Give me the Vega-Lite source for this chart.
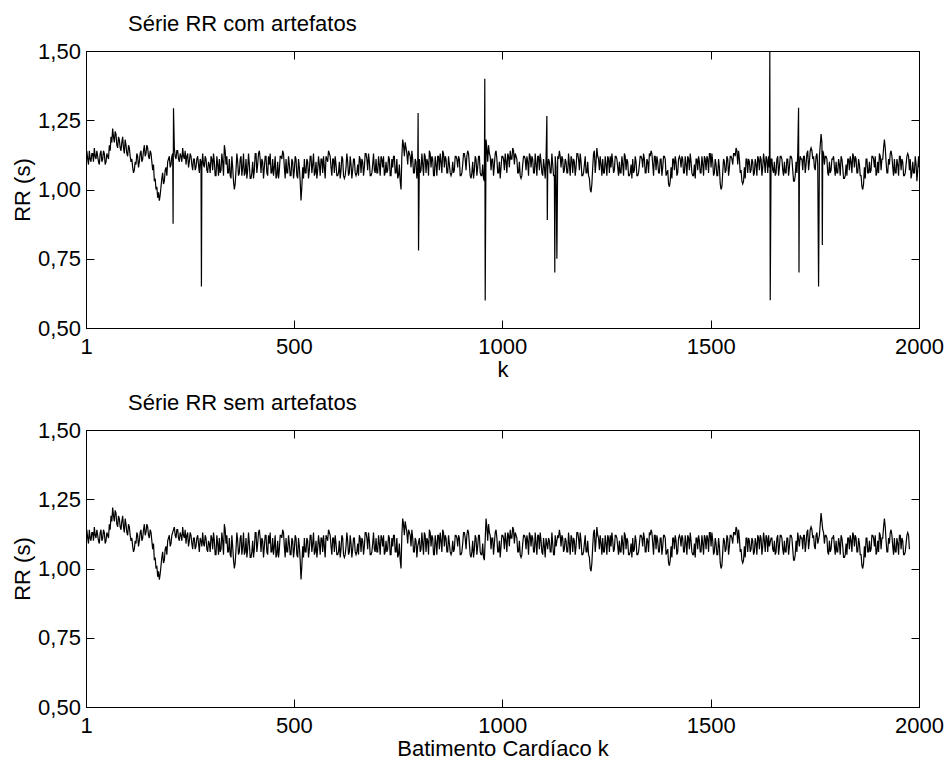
{
"$schema":"https://vega.github.io/schema/vega-lite/v6.json",
"padding":{"left":11,"top":12,"right":5,"bottom":5},
"spacing":10,
"config":{"font":"Liberation Sans","view":{"stroke":"black","strokeWidth":1},
"axis":{"labelFont":"Liberation Sans","labelFontSize":22,"labelColor":"black","titleFont":"Liberation Sans","titleFontSize":22,"titleFontWeight":"normal","titleColor":"black","domainColor":"black","tickColor":"black","grid":false,"tickSize":-8,"labelFlush":false,"labelOverlap":false},
"title":{"font":"Liberation Sans","fontSize":22,"fontWeight":"normal","color":"black","anchor":"start","frame":"group","dx":42}},
"datasets":{"rr":[
{"k":1,"a":1.12},{"k":5,"a":1.11},{"k":9,"a":1.14},{"k":13,"a":1.10},{"k":17,"a":1.13},{"k":21,"a":1.15},{"k":25,"a":1.11},{"k":29,"a":1.12},{"k":33,"a":1.09},{"k":37,"a":1.14},
{"k":41,"a":1.11},{"k":45,"a":1.13},{"k":49,"a":1.10},{"k":53,"a":1.12},{"k":57,"a":1.16},{"k":61,"a":1.19},{"k":65,"a":1.22},{"k":69,"a":1.17},{"k":73,"a":1.20},{"k":77,"a":1.15},
{"k":81,"a":1.18},{"k":85,"a":1.14},{"k":89,"a":1.19},{"k":93,"a":1.13},{"k":97,"a":1.16},{"k":101,"a":1.12},{"k":105,"a":1.15},{"k":109,"a":1.10},{"k":113,"a":1.08},{"k":117,"a":1.07},
{"k":121,"a":1.09},{"k":125,"a":1.12},{"k":129,"a":1.10},{"k":133,"a":1.14},{"k":137,"a":1.11},{"k":141,"a":1.16},{"k":145,"a":1.13},{"k":149,"a":1.15},{"k":153,"a":1.11},{"k":157,"a":1.13},
{"k":161,"a":1.07},{"k":165,"a":1.03},{"k":169,"a":1.00},{"k":173,"a":0.97},{"k":177,"a":0.96},{"k":181,"a":1.01},{"k":185,"a":1.06},{"k":189,"a":1.03},{"k":193,"a":1.08},{"k":197,"a":1.10},
{"k":201,"a":1.12},{"k":205,"a":1.09},{"k":209,"a":1.13},{"k":210,"a":0.876,"art":1},{"k":211,"a":1.293,"art":1},{"k":213,"a":1.15},{"k":217,"a":1.11},{"k":221,"a":1.14},{"k":225,"a":1.10},{"k":229,"a":1.12},{"k":233,"a":1.15},{"k":237,"a":1.11},
{"k":241,"a":1.09},{"k":245,"a":1.13},{"k":249,"a":1.10},{"k":253,"a":1.12},{"k":257,"a":1.07},{"k":261,"a":1.11},{"k":265,"a":1.08},{"k":269,"a":1.12},{"k":273,"a":1.06},{"k":277,"a":1.10},{"k":278,"a":0.65,"art":1},
{"k":281,"a":1.13},{"k":285,"a":1.08},{"k":289,"a":1.11},{"k":293,"a":1.06},{"k":297,"a":1.09},{"k":301,"a":1.12},{"k":305,"a":1.07},{"k":309,"a":1.10},{"k":313,"a":1.05},{"k":317,"a":1.09},
{"k":321,"a":1.11},{"k":325,"a":1.07},{"k":329,"a":1.10},{"k":333,"a":1.16},{"k":337,"a":1.09},{"k":341,"a":1.06},{"k":345,"a":1.11},{"k":349,"a":1.04},{"k":353,"a":1.08},{"k":357,"a":1.00},
{"k":361,"a":1.07},{"k":365,"a":1.10},{"k":369,"a":1.06},{"k":373,"a":1.12},{"k":377,"a":1.08},{"k":381,"a":1.05},{"k":385,"a":1.11},{"k":389,"a":1.07},{"k":393,"a":1.09},{"k":397,"a":1.04},
{"k":401,"a":1.10},{"k":405,"a":1.07},{"k":409,"a":1.13},{"k":413,"a":1.09},{"k":417,"a":1.14},{"k":421,"a":1.06},{"k":425,"a":1.10},{"k":429,"a":1.08},{"k":433,"a":1.12},{"k":437,"a":1.05},
{"k":441,"a":1.09},{"k":445,"a":1.06},{"k":449,"a":1.11},{"k":453,"a":1.08},{"k":457,"a":1.04},{"k":461,"a":1.10},{"k":465,"a":1.07},{"k":469,"a":1.12},{"k":473,"a":1.14},{"k":477,"a":1.08},
{"k":481,"a":1.11},{"k":485,"a":1.06},{"k":489,"a":1.09},{"k":493,"a":1.05},{"k":497,"a":1.10},{"k":501,"a":1.07},{"k":505,"a":1.11},{"k":509,"a":1.04},{"k":513,"a":1.08},{"k":517,"a":0.96},
{"k":521,"a":1.08},{"k":525,"a":1.11},{"k":529,"a":1.06},{"k":533,"a":1.10},{"k":537,"a":1.07},{"k":541,"a":1.12},{"k":545,"a":1.09},{"k":549,"a":1.05},{"k":553,"a":1.10},{"k":557,"a":1.07},
{"k":561,"a":1.09},{"k":565,"a":1.11},{"k":569,"a":1.06},{"k":573,"a":1.08},{"k":577,"a":1.12},{"k":581,"a":1.10},{"k":585,"a":1.13},{"k":589,"a":1.08},{"k":593,"a":1.11},{"k":597,"a":1.06},
{"k":601,"a":1.09},{"k":605,"a":1.05},{"k":609,"a":1.10},{"k":613,"a":1.07},{"k":617,"a":1.11},{"k":621,"a":1.04},{"k":625,"a":1.08},{"k":629,"a":1.10},{"k":633,"a":1.06},{"k":637,"a":1.09},
{"k":641,"a":1.07},{"k":645,"a":1.11},{"k":649,"a":1.05},{"k":653,"a":1.09},{"k":657,"a":1.12},{"k":661,"a":1.06},{"k":665,"a":1.10},{"k":669,"a":1.08},{"k":673,"a":1.13},{"k":677,"a":1.07},
{"k":681,"a":1.10},{"k":685,"a":1.05},{"k":689,"a":1.09},{"k":693,"a":1.07},{"k":697,"a":1.11},{"k":701,"a":1.06},{"k":705,"a":1.09},{"k":709,"a":1.12},{"k":713,"a":1.08},{"k":717,"a":1.05},
{"k":721,"a":1.10},{"k":725,"a":1.07},{"k":729,"a":1.11},{"k":733,"a":1.05},{"k":737,"a":1.08},{"k":741,"a":1.12},{"k":745,"a":1.06},{"k":749,"a":1.04},{"k":753,"a":1.09},{"k":757,"a":1.00},
{"k":761,"a":1.18},{"k":765,"a":1.12},{"k":769,"a":1.15},{"k":773,"a":1.09},{"k":777,"a":1.13},{"k":781,"a":1.08},{"k":785,"a":1.11},{"k":789,"a":1.06},{"k":793,"a":1.10},{"k":797,"a":1.08},{"k":798,"a":1.276,"art":1},{"k":799,"a":0.78,"art":1},
{"k":801,"a":1.11},{"k":805,"a":1.07},{"k":809,"a":1.09},{"k":813,"a":1.13},{"k":817,"a":1.06},{"k":821,"a":1.10},{"k":825,"a":1.14},{"k":829,"a":1.08},{"k":833,"a":1.11},{"k":837,"a":1.05},
{"k":841,"a":1.09},{"k":845,"a":1.12},{"k":849,"a":1.07},{"k":853,"a":1.10},{"k":857,"a":1.14},{"k":861,"a":1.08},{"k":865,"a":1.11},{"k":869,"a":1.06},{"k":873,"a":1.09},{"k":877,"a":1.05},
{"k":881,"a":1.10},{"k":885,"a":1.07},{"k":889,"a":1.12},{"k":893,"a":1.08},{"k":897,"a":1.11},{"k":901,"a":1.05},{"k":905,"a":1.09},{"k":909,"a":1.13},{"k":913,"a":1.07},{"k":917,"a":1.14},
{"k":921,"a":1.09},{"k":925,"a":1.04},{"k":929,"a":1.10},{"k":933,"a":1.07},{"k":937,"a":1.11},{"k":941,"a":1.08},{"k":945,"a":1.12},{"k":949,"a":1.05},{"k":953,"a":1.09},{"k":957,"a":1.03},{"k":958,"a":1.40,"art":1},{"k":959,"a":0.599,"art":1},
{"k":961,"a":1.18},{"k":965,"a":1.10},{"k":969,"a":1.13},{"k":973,"a":1.07},{"k":977,"a":1.11},{"k":981,"a":1.09},{"k":985,"a":1.14},{"k":989,"a":1.06},{"k":993,"a":1.10},{"k":997,"a":1.08},
{"k":1001,"a":1.12},{"k":1005,"a":1.07},{"k":1009,"a":1.10},{"k":1013,"a":1.13},{"k":1017,"a":1.08},{"k":1021,"a":1.11},{"k":1025,"a":1.15},{"k":1029,"a":1.09},{"k":1033,"a":1.12},{"k":1037,"a":1.06},
{"k":1041,"a":1.10},{"k":1045,"a":1.04},{"k":1049,"a":1.09},{"k":1053,"a":1.12},{"k":1057,"a":1.07},{"k":1061,"a":1.10},{"k":1065,"a":1.13},{"k":1069,"a":1.08},{"k":1073,"a":1.11},{"k":1077,"a":1.06},
{"k":1081,"a":1.09},{"k":1085,"a":1.12},{"k":1089,"a":1.07},{"k":1093,"a":1.10},{"k":1097,"a":1.05},{"k":1101,"a":1.08},{"k":1105,"a":1.11},{"k":1107,"a":1.265,"art":1},{"k":1108,"a":0.89,"art":1},{"k":1109,"a":1.07},{"k":1113,"a":1.10},{"k":1117,"a":1.06},
{"k":1121,"a":1.09},{"k":1125,"a":1.05},{"k":1126,"a":0.70,"art":1},{"k":1129,"a":1.08},{"k":1131,"a":0.75,"art":1},{"k":1133,"a":1.12},{"k":1137,"a":1.14},{"k":1141,"a":1.08},{"k":1145,"a":1.11},{"k":1149,"a":1.07},{"k":1153,"a":1.10},{"k":1157,"a":1.06},
{"k":1161,"a":1.09},{"k":1165,"a":1.12},{"k":1169,"a":1.06},{"k":1173,"a":1.10},{"k":1177,"a":1.08},{"k":1181,"a":1.13},{"k":1185,"a":1.07},{"k":1189,"a":1.10},{"k":1193,"a":1.05},{"k":1197,"a":1.09},
{"k":1201,"a":1.06},{"k":1205,"a":1.10},{"k":1209,"a":1.04},{"k":1213,"a":0.99},{"k":1217,"a":1.08},{"k":1221,"a":1.14},{"k":1225,"a":1.10},{"k":1229,"a":1.12},{"k":1233,"a":1.07},{"k":1237,"a":1.09},
{"k":1241,"a":1.11},{"k":1245,"a":1.06},{"k":1249,"a":1.09},{"k":1253,"a":1.12},{"k":1257,"a":1.06},{"k":1261,"a":1.08},{"k":1265,"a":1.10},{"k":1269,"a":1.07},{"k":1273,"a":1.12},{"k":1277,"a":1.08},
{"k":1281,"a":1.10},{"k":1285,"a":1.06},{"k":1289,"a":1.09},{"k":1293,"a":1.13},{"k":1297,"a":1.07},{"k":1301,"a":1.10},{"k":1305,"a":1.05},{"k":1309,"a":1.09},{"k":1313,"a":1.11},{"k":1317,"a":1.07},
{"k":1321,"a":1.10},{"k":1325,"a":1.05},{"k":1329,"a":1.09},{"k":1333,"a":1.12},{"k":1337,"a":1.08},{"k":1341,"a":1.11},{"k":1345,"a":1.06},{"k":1349,"a":1.10},{"k":1353,"a":1.13},{"k":1357,"a":1.14},
{"k":1361,"a":1.09},{"k":1365,"a":1.12},{"k":1369,"a":1.07},{"k":1373,"a":1.10},{"k":1377,"a":1.06},{"k":1381,"a":1.11},{"k":1385,"a":1.08},{"k":1389,"a":1.12},{"k":1393,"a":1.05},{"k":1397,"a":1.07},
{"k":1401,"a":1.01},{"k":1405,"a":1.08},{"k":1409,"a":1.11},{"k":1413,"a":1.07},{"k":1417,"a":1.10},{"k":1421,"a":1.06},{"k":1425,"a":1.12},{"k":1429,"a":1.08},{"k":1433,"a":1.11},{"k":1437,"a":1.06},
{"k":1441,"a":1.09},{"k":1445,"a":1.12},{"k":1449,"a":1.07},{"k":1453,"a":1.10},{"k":1457,"a":1.05},{"k":1461,"a":1.09},{"k":1465,"a":1.11},{"k":1469,"a":1.07},{"k":1473,"a":1.10},{"k":1477,"a":1.06},
{"k":1481,"a":1.09},{"k":1485,"a":1.12},{"k":1489,"a":1.07},{"k":1493,"a":1.11},{"k":1497,"a":1.13},{"k":1501,"a":1.08},{"k":1505,"a":1.10},{"k":1509,"a":1.06},{"k":1513,"a":1.09},{"k":1517,"a":1.05},
{"k":1521,"a":1.08},{"k":1525,"a":1.00},{"k":1529,"a":1.06},{"k":1533,"a":1.10},{"k":1537,"a":1.07},{"k":1541,"a":1.11},{"k":1545,"a":1.08},{"k":1549,"a":1.12},{"k":1553,"a":1.09},{"k":1557,"a":1.13},
{"k":1561,"a":1.15},{"k":1565,"a":1.09},{"k":1569,"a":1.11},{"k":1573,"a":1.07},{"k":1577,"a":1.02},{"k":1581,"a":1.08},{"k":1585,"a":1.11},{"k":1589,"a":1.06},{"k":1593,"a":1.10},{"k":1597,"a":1.07},
{"k":1601,"a":1.10},{"k":1605,"a":1.06},{"k":1609,"a":1.09},{"k":1613,"a":1.12},{"k":1617,"a":1.07},{"k":1621,"a":1.11},{"k":1625,"a":1.08},{"k":1629,"a":1.10},{"k":1633,"a":1.12},{"k":1637,"a":1.06},
{"k":1641,"a":1.08},{"k":1642,"a":1.50,"art":1},{"k":1643,"a":0.60,"art":1},{"k":1645,"a":1.11},{"k":1649,"a":1.07},{"k":1653,"a":1.10},{"k":1657,"a":1.06},{"k":1661,"a":1.12},{"k":1665,"a":1.08},{"k":1669,"a":1.12},{"k":1673,"a":1.07},{"k":1677,"a":1.10},
{"k":1681,"a":1.06},{"k":1685,"a":1.11},{"k":1689,"a":1.08},{"k":1693,"a":1.12},{"k":1697,"a":1.07},{"k":1701,"a":1.03},{"k":1705,"a":1.10},{"k":1709,"a":1.13},{"k":1711,"a":1.295,"art":1},{"k":1712,"a":0.70,"art":1},{"k":1713,"a":1.08},{"k":1717,"a":1.11},
{"k":1721,"a":1.07},{"k":1725,"a":1.12},{"k":1729,"a":1.09},{"k":1733,"a":1.14},{"k":1737,"a":1.10},{"k":1741,"a":1.15},{"k":1745,"a":1.11},{"k":1749,"a":1.08},{"k":1753,"a":1.12},{"k":1757,"a":1.09},{"k":1759,"a":0.65,"art":1},
{"k":1761,"a":1.12},{"k":1765,"a":1.20},{"k":1768,"a":0.80,"art":1},{"k":1769,"a":1.14},{"k":1773,"a":1.09},{"k":1777,"a":1.12},{"k":1781,"a":1.06},{"k":1785,"a":1.10},{"k":1789,"a":1.07},{"k":1793,"a":1.11},{"k":1797,"a":1.08},
{"k":1801,"a":1.10},{"k":1805,"a":1.06},{"k":1809,"a":1.09},{"k":1813,"a":1.12},{"k":1817,"a":1.08},{"k":1821,"a":1.04},{"k":1825,"a":1.09},{"k":1829,"a":1.11},{"k":1833,"a":1.07},{"k":1837,"a":1.10},
{"k":1841,"a":1.13},{"k":1845,"a":1.08},{"k":1849,"a":1.11},{"k":1853,"a":1.06},{"k":1857,"a":1.09},{"k":1861,"a":1.05},{"k":1865,"a":1.00},{"k":1869,"a":1.08},{"k":1873,"a":1.11},{"k":1877,"a":1.06},
{"k":1881,"a":1.10},{"k":1885,"a":1.07},{"k":1889,"a":1.12},{"k":1893,"a":1.08},{"k":1897,"a":1.05},{"k":1901,"a":1.10},{"k":1905,"a":1.13},{"k":1909,"a":1.07},{"k":1913,"a":1.11},{"k":1917,"a":1.18},
{"k":1921,"a":1.10},{"k":1925,"a":1.06},{"k":1929,"a":1.09},{"k":1933,"a":1.14},{"k":1937,"a":1.08},{"k":1941,"a":1.11},{"k":1945,"a":1.06},{"k":1949,"a":1.09},{"k":1953,"a":1.12},{"k":1957,"a":1.07},
{"k":1961,"a":1.10},{"k":1965,"a":1.05},{"k":1969,"a":1.09},{"k":1973,"a":1.13},{"k":1977,"a":1.07},{"k":1981,"a":1.04},{"k":1985,"a":1.10},{"k":1989,"a":1.06},{"k":1993,"a":1.09},{"k":1997,"a":1.07},{"k":2000,"a":1.08},
{"k":3,"a":1.14},{"k":7,"a":1.09},{"k":11,"a":1.11},{"k":15,"a":1.13},{"k":19,"a":1.10},{"k":23,"a":1.12},{"k":27,"a":1.14},{"k":31,"a":1.10},{"k":35,"a":1.13},{"k":39,"a":1.10},
{"k":43,"a":1.14},{"k":47,"a":1.09},{"k":51,"a":1.13},{"k":55,"a":1.11},{"k":59,"a":1.14},{"k":63,"a":1.17},{"k":67,"a":1.19},{"k":71,"a":1.21},{"k":75,"a":1.16},{"k":79,"a":1.19},
{"k":83,"a":1.15},{"k":87,"a":1.17},{"k":91,"a":1.15},{"k":95,"a":1.18},{"k":99,"a":1.13},{"k":103,"a":1.16},{"k":107,"a":1.12},{"k":111,"a":1.11},{"k":115,"a":1.06},{"k":119,"a":1.10},
{"k":123,"a":1.13},{"k":127,"a":1.08},{"k":131,"a":1.13},{"k":135,"a":1.10},{"k":139,"a":1.14},{"k":143,"a":1.12},{"k":147,"a":1.16},{"k":151,"a":1.12},{"k":155,"a":1.14},{"k":159,"a":1.10},
{"k":163,"a":1.09},{"k":167,"a":1.04},{"k":171,"a":1.01},{"k":175,"a":0.99},{"k":179,"a":0.98},{"k":183,"a":1.04},{"k":187,"a":1.02},{"k":191,"a":1.07},{"k":195,"a":1.05},{"k":199,"a":1.11},
{"k":203,"a":1.08},{"k":207,"a":1.12},{"k":215,"a":1.12},{"k":219,"a":1.14},{"k":223,"a":1.11},{"k":227,"a":1.13},{"k":231,"a":1.10},{"k":235,"a":1.12},{"k":239,"a":1.14},
{"k":243,"a":1.12},{"k":247,"a":1.08},{"k":251,"a":1.13},{"k":255,"a":1.09},{"k":259,"a":1.11},{"k":263,"a":1.07},{"k":267,"a":1.11},{"k":271,"a":1.09},{"k":275,"a":1.11},{"k":279,"a":1.08},
{"k":283,"a":1.09},{"k":287,"a":1.12},{"k":291,"a":1.07},{"k":295,"a":1.10},{"k":299,"a":1.06},{"k":303,"a":1.11},{"k":307,"a":1.13},{"k":311,"a":1.05},{"k":315,"a":1.12},{"k":319,"a":1.05},
{"k":323,"a":1.06},{"k":327,"a":1.13},{"k":331,"a":1.05},{"k":335,"a":1.14},{"k":339,"a":1.12},{"k":343,"a":1.06},{"k":347,"a":1.05},{"k":351,"a":1.12},{"k":355,"a":1.03},{"k":359,"a":1.02},
{"k":363,"a":1.13},{"k":367,"a":1.05},{"k":371,"a":1.11},{"k":375,"a":1.05},{"k":379,"a":1.13},{"k":383,"a":1.06},{"k":387,"a":1.04},{"k":391,"a":1.13},{"k":395,"a":1.04},{"k":399,"a":1.06},
{"k":403,"a":1.04},{"k":407,"a":1.13},{"k":411,"a":1.06},{"k":415,"a":1.13},{"k":419,"a":1.11},{"k":423,"a":1.11},{"k":427,"a":1.04},{"k":431,"a":1.12},{"k":435,"a":1.06},{"k":439,"a":1.12},
{"k":443,"a":1.13},{"k":447,"a":1.06},{"k":451,"a":1.05},{"k":455,"a":1.12},{"k":459,"a":1.05},{"k":463,"a":1.04},{"k":467,"a":1.12},{"k":471,"a":1.11},{"k":475,"a":1.13},{"k":479,"a":1.04},
{"k":483,"a":1.06},{"k":487,"a":1.12},{"k":491,"a":1.05},{"k":495,"a":1.11},{"k":499,"a":1.04},{"k":503,"a":1.12},{"k":507,"a":1.05},{"k":511,"a":1.11},{"k":515,"a":1.03},{"k":519,"a":1.01},
{"k":523,"a":1.04},{"k":527,"a":1.06},{"k":531,"a":1.11},{"k":535,"a":1.04},{"k":539,"a":1.12},{"k":543,"a":1.06},{"k":547,"a":1.13},{"k":551,"a":1.06},{"k":555,"a":1.04},{"k":559,"a":1.12},
{"k":563,"a":1.05},{"k":567,"a":1.11},{"k":571,"a":1.12},{"k":575,"a":1.04},{"k":579,"a":1.11},{"k":583,"a":1.14},{"k":587,"a":1.12},{"k":591,"a":1.05},{"k":595,"a":1.11},{"k":599,"a":1.12},
{"k":603,"a":1.05},{"k":607,"a":1.06},{"k":611,"a":1.04},{"k":615,"a":1.12},{"k":619,"a":1.05},{"k":623,"a":1.05},{"k":627,"a":1.13},{"k":631,"a":1.05},{"k":635,"a":1.12},{"k":639,"a":1.04},
{"k":643,"a":1.11},{"k":647,"a":1.06},{"k":651,"a":1.06},{"k":655,"a":1.05},{"k":659,"a":1.11},{"k":663,"a":1.11},{"k":667,"a":1.05},{"k":671,"a":1.13},{"k":675,"a":1.11},{"k":679,"a":1.13},
{"k":683,"a":1.05},{"k":687,"a":1.06},{"k":691,"a":1.13},{"k":695,"a":1.06},{"k":699,"a":1.06},{"k":703,"a":1.12},{"k":707,"a":1.05},{"k":711,"a":1.11},{"k":715,"a":1.12},{"k":719,"a":1.06},
{"k":723,"a":1.06},{"k":727,"a":1.12},{"k":731,"a":1.05},{"k":735,"a":1.11},{"k":739,"a":1.12},{"k":743,"a":1.06},{"k":747,"a":1.11},{"k":751,"a":1.05},{"k":755,"a":1.03},{"k":759,"a":1.12},
{"k":763,"a":1.16},{"k":767,"a":1.17},{"k":771,"a":1.13},{"k":775,"a":1.14},{"k":779,"a":1.12},{"k":783,"a":1.14},{"k":787,"a":1.06},{"k":791,"a":1.11},{"k":795,"a":1.04},
{"k":803,"a":1.06},{"k":807,"a":1.13},{"k":811,"a":1.05},{"k":815,"a":1.12},{"k":819,"a":1.11},{"k":823,"a":1.05},{"k":827,"a":1.13},{"k":831,"a":1.12},{"k":835,"a":1.05},{"k":839,"a":1.12},
{"k":843,"a":1.05},{"k":847,"a":1.12},{"k":851,"a":1.13},{"k":855,"a":1.06},{"k":859,"a":1.13},{"k":863,"a":1.12},{"k":867,"a":1.06},{"k":871,"a":1.12},{"k":875,"a":1.06},{"k":879,"a":1.06},
{"k":883,"a":1.06},{"k":887,"a":1.12},{"k":891,"a":1.11},{"k":895,"a":1.12},{"k":899,"a":1.05},{"k":903,"a":1.06},{"k":907,"a":1.13},{"k":911,"a":1.11},{"k":915,"a":1.12},{"k":919,"a":1.13},
{"k":923,"a":1.05},{"k":927,"a":1.06},{"k":931,"a":1.04},{"k":935,"a":1.12},{"k":939,"a":1.05},{"k":943,"a":1.12},{"k":947,"a":1.06},{"k":951,"a":1.05},{"k":955,"a":1.04},
{"k":963,"a":1.15},{"k":967,"a":1.16},{"k":971,"a":1.12},{"k":975,"a":1.11},{"k":979,"a":1.05},{"k":983,"a":1.13},{"k":987,"a":1.11},{"k":991,"a":1.06},{"k":995,"a":1.04},{"k":999,"a":1.12},
{"k":1003,"a":1.11},{"k":1007,"a":1.13},{"k":1011,"a":1.06},{"k":1015,"a":1.12},{"k":1019,"a":1.14},{"k":1023,"a":1.11},{"k":1027,"a":1.14},{"k":1031,"a":1.13},{"k":1035,"a":1.11},{"k":1039,"a":1.06},
{"k":1043,"a":1.05},{"k":1047,"a":1.05},{"k":1051,"a":1.12},{"k":1055,"a":1.11},{"k":1059,"a":1.12},{"k":1063,"a":1.05},{"k":1067,"a":1.12},{"k":1071,"a":1.12},{"k":1075,"a":1.06},{"k":1079,"a":1.13},
{"k":1083,"a":1.05},{"k":1087,"a":1.12},{"k":1091,"a":1.13},{"k":1095,"a":1.06},{"k":1099,"a":1.11},{"k":1103,"a":1.04},{"k":1111,"a":1.11},{"k":1115,"a":1.06},{"k":1119,"a":1.13},
{"k":1123,"a":1.05},{"k":1127,"a":1.12},{"k":1135,"a":1.11},{"k":1139,"a":1.12},{"k":1143,"a":1.12},{"k":1147,"a":1.06},{"k":1151,"a":1.11},{"k":1155,"a":1.06},{"k":1159,"a":1.13},
{"k":1163,"a":1.05},{"k":1167,"a":1.11},{"k":1171,"a":1.11},{"k":1175,"a":1.05},{"k":1179,"a":1.13},{"k":1183,"a":1.11},{"k":1187,"a":1.13},{"k":1191,"a":1.05},{"k":1195,"a":1.06},{"k":1199,"a":1.12},
{"k":1203,"a":1.06},{"k":1207,"a":1.05},{"k":1211,"a":1.00},{"k":1215,"a":1.02},{"k":1219,"a":1.13},{"k":1223,"a":1.06},{"k":1227,"a":1.15},{"k":1231,"a":1.11},{"k":1235,"a":1.12},{"k":1239,"a":1.05},
{"k":1243,"a":1.06},{"k":1247,"a":1.12},{"k":1251,"a":1.05},{"k":1255,"a":1.11},{"k":1259,"a":1.12},{"k":1263,"a":1.13},{"k":1267,"a":1.06},{"k":1271,"a":1.12},{"k":1275,"a":1.11},{"k":1279,"a":1.05},
{"k":1283,"a":1.06},{"k":1287,"a":1.12},{"k":1291,"a":1.05},{"k":1295,"a":1.12},{"k":1299,"a":1.11},{"k":1303,"a":1.05},{"k":1307,"a":1.06},{"k":1311,"a":1.04},{"k":1315,"a":1.06},{"k":1319,"a":1.12},
{"k":1323,"a":1.05},{"k":1327,"a":1.06},{"k":1331,"a":1.12},{"k":1335,"a":1.11},{"k":1339,"a":1.13},{"k":1343,"a":1.06},{"k":1347,"a":1.11},{"k":1351,"a":1.06},{"k":1355,"a":1.12},{"k":1359,"a":1.13},
{"k":1363,"a":1.05},{"k":1367,"a":1.12},{"k":1371,"a":1.12},{"k":1375,"a":1.06},{"k":1379,"a":1.11},{"k":1383,"a":1.05},{"k":1387,"a":1.12},{"k":1391,"a":1.11},{"k":1395,"a":1.06},{"k":1399,"a":1.02},
{"k":1403,"a":1.03},{"k":1407,"a":1.04},{"k":1411,"a":1.11},{"k":1415,"a":1.12},{"k":1419,"a":1.05},{"k":1423,"a":1.11},{"k":1427,"a":1.11},{"k":1431,"a":1.12},{"k":1435,"a":1.06},{"k":1439,"a":1.12},
{"k":1443,"a":1.05},{"k":1447,"a":1.11},{"k":1451,"a":1.13},{"k":1455,"a":1.06},{"k":1459,"a":1.05},{"k":1463,"a":1.04},{"k":1467,"a":1.11},{"k":1471,"a":1.12},{"k":1475,"a":1.06},{"k":1479,"a":1.12},
{"k":1483,"a":1.05},{"k":1487,"a":1.11},{"k":1491,"a":1.12},{"k":1495,"a":1.06},{"k":1499,"a":1.13},{"k":1503,"a":1.13},{"k":1507,"a":1.05},{"k":1511,"a":1.11},{"k":1515,"a":1.05},{"k":1519,"a":1.11},
{"k":1523,"a":1.02},{"k":1527,"a":1.01},{"k":1531,"a":1.11},{"k":1535,"a":1.06},{"k":1539,"a":1.12},{"k":1543,"a":1.05},{"k":1547,"a":1.12},{"k":1551,"a":1.11},{"k":1555,"a":1.13},{"k":1559,"a":1.12},
{"k":1563,"a":1.14},{"k":1567,"a":1.14},{"k":1571,"a":1.06},{"k":1575,"a":1.03},{"k":1579,"a":1.03},{"k":1583,"a":1.04},{"k":1587,"a":1.11},{"k":1591,"a":1.11},{"k":1595,"a":1.06},{"k":1599,"a":1.11},
{"k":1603,"a":1.05},{"k":1607,"a":1.11},{"k":1611,"a":1.05},{"k":1615,"a":1.11},{"k":1619,"a":1.12},{"k":1623,"a":1.05},{"k":1627,"a":1.13},{"k":1631,"a":1.06},{"k":1635,"a":1.11},{"k":1639,"a":1.12},
{"k":1647,"a":1.11},{"k":1651,"a":1.06},{"k":1655,"a":1.05},{"k":1659,"a":1.11},{"k":1663,"a":1.05},{"k":1667,"a":1.12},{"k":1671,"a":1.11},{"k":1675,"a":1.05},{"k":1679,"a":1.06},
{"k":1683,"a":1.11},{"k":1687,"a":1.05},{"k":1691,"a":1.12},{"k":1695,"a":1.11},{"k":1699,"a":1.03},{"k":1703,"a":1.05},{"k":1707,"a":1.06},{"k":1715,"a":1.12},{"k":1719,"a":1.11},
{"k":1723,"a":1.12},{"k":1727,"a":1.06},{"k":1731,"a":1.13},{"k":1735,"a":1.07},{"k":1739,"a":1.14},{"k":1743,"a":1.14},{"k":1747,"a":1.12},{"k":1751,"a":1.07},{"k":1755,"a":1.13},
{"k":1763,"a":1.16},{"k":1767,"a":1.17},{"k":1771,"a":1.13},{"k":1775,"a":1.12},{"k":1779,"a":1.11},{"k":1783,"a":1.05},{"k":1787,"a":1.06},{"k":1791,"a":1.11},{"k":1795,"a":1.12},{"k":1799,"a":1.05},
{"k":1803,"a":1.06},{"k":1807,"a":1.11},{"k":1811,"a":1.05},{"k":1815,"a":1.11},{"k":1819,"a":1.04},{"k":1823,"a":1.05},{"k":1827,"a":1.05},{"k":1831,"a":1.11},{"k":1835,"a":1.12},{"k":1839,"a":1.06},
{"k":1843,"a":1.12},{"k":1847,"a":1.12},{"k":1851,"a":1.06},{"k":1855,"a":1.11},{"k":1859,"a":1.05},{"k":1863,"a":1.01},{"k":1867,"a":1.02},{"k":1871,"a":1.04},{"k":1875,"a":1.11},{"k":1879,"a":1.06},
{"k":1883,"a":1.06},{"k":1887,"a":1.12},{"k":1891,"a":1.11},{"k":1895,"a":1.12},{"k":1899,"a":1.06},{"k":1903,"a":1.06},{"k":1907,"a":1.12},{"k":1911,"a":1.11},{"k":1915,"a":1.15},{"k":1919,"a":1.15},
{"k":1923,"a":1.06},{"k":1927,"a":1.11},{"k":1931,"a":1.13},{"k":1935,"a":1.12},{"k":1939,"a":1.05},{"k":1943,"a":1.06},{"k":1947,"a":1.11},{"k":1951,"a":1.05},{"k":1955,"a":1.12},{"k":1959,"a":1.11},
{"k":1963,"a":1.05},{"k":1967,"a":1.06},{"k":1971,"a":1.12},{"k":1975,"a":1.12},{"k":1979,"a":1.11},{"k":1983,"a":1.06},{"k":1987,"a":1.06},{"k":1991,"a":1.12},{"k":1995,"a":1.03},{"k":1999,"a":1.12}
]},
"vconcat":[
{"width":833,"height":277,
"title":{"text":"Série RR com artefatos","offset":4},
"data":{"name":"rr"},
"layer":[
{"mark":{"type":"line","color":"black","strokeWidth":1.2,"clip":true},
"encoding":{
"x":{"field":"k","type":"quantitative","scale":{"domain":[1,2000],"nice":false,"zero":false},"axis":{"values":[1,500,1000,1500,2000],"format":"d","labelPadding":16.5,"title":"k","titlePadding":2}},
"y":{"field":"a","type":"quantitative","scale":{"domain":[0.5,1.5],"nice":false,"zero":false},"axis":{"values":[0.5,0.75,1,1.25,1.5],"labelExpr":"replace(format(datum.value,'.2f'),'.',',')","labelPadding":13.6,"title":"RR (s)","titlePadding":3}}}},
{"mark":{"type":"point","opacity":0},
"encoding":{
"x":{"field":"k","type":"quantitative","axis":{"orient":"top","values":[1,500,1000,1500,2000],"labels":false,"title":null}},
"y":{"field":"a","type":"quantitative","axis":{"orient":"right","values":[0.5,0.75,1,1.25,1.5],"labels":false,"title":null}}}}
],
"resolve":{"axis":{"x":"independent","y":"independent"}}},
{"width":833,"height":277,
"title":{"text":"Série RR sem artefatos","offset":4},
"data":{"name":"rr"},
"transform":[{"filter":"!datum.art && datum.k <= 1977"}],
"layer":[
{"mark":{"type":"line","color":"black","strokeWidth":1.2,"clip":true},
"encoding":{
"x":{"field":"k","type":"quantitative","scale":{"domain":[1,2000],"nice":false,"zero":false},"axis":{"values":[1,500,1000,1500,2000],"format":"d","labelPadding":16.5,"title":"Batimento Cardíaco k","titlePadding":2}},
"y":{"field":"a","type":"quantitative","scale":{"domain":[0.5,1.5],"nice":false,"zero":false},"axis":{"values":[0.5,0.75,1,1.25,1.5],"labelExpr":"replace(format(datum.value,'.2f'),'.',',')","labelPadding":13.6,"title":"RR (s)","titlePadding":3}}}},
{"mark":{"type":"point","opacity":0},
"encoding":{
"x":{"field":"k","type":"quantitative","axis":{"orient":"top","values":[1,500,1000,1500,2000],"labels":false,"title":null}},
"y":{"field":"a","type":"quantitative","axis":{"orient":"right","values":[0.5,0.75,1,1.25,1.5],"labels":false,"title":null}}}}
],
"resolve":{"axis":{"x":"independent","y":"independent"}}}
]
}
